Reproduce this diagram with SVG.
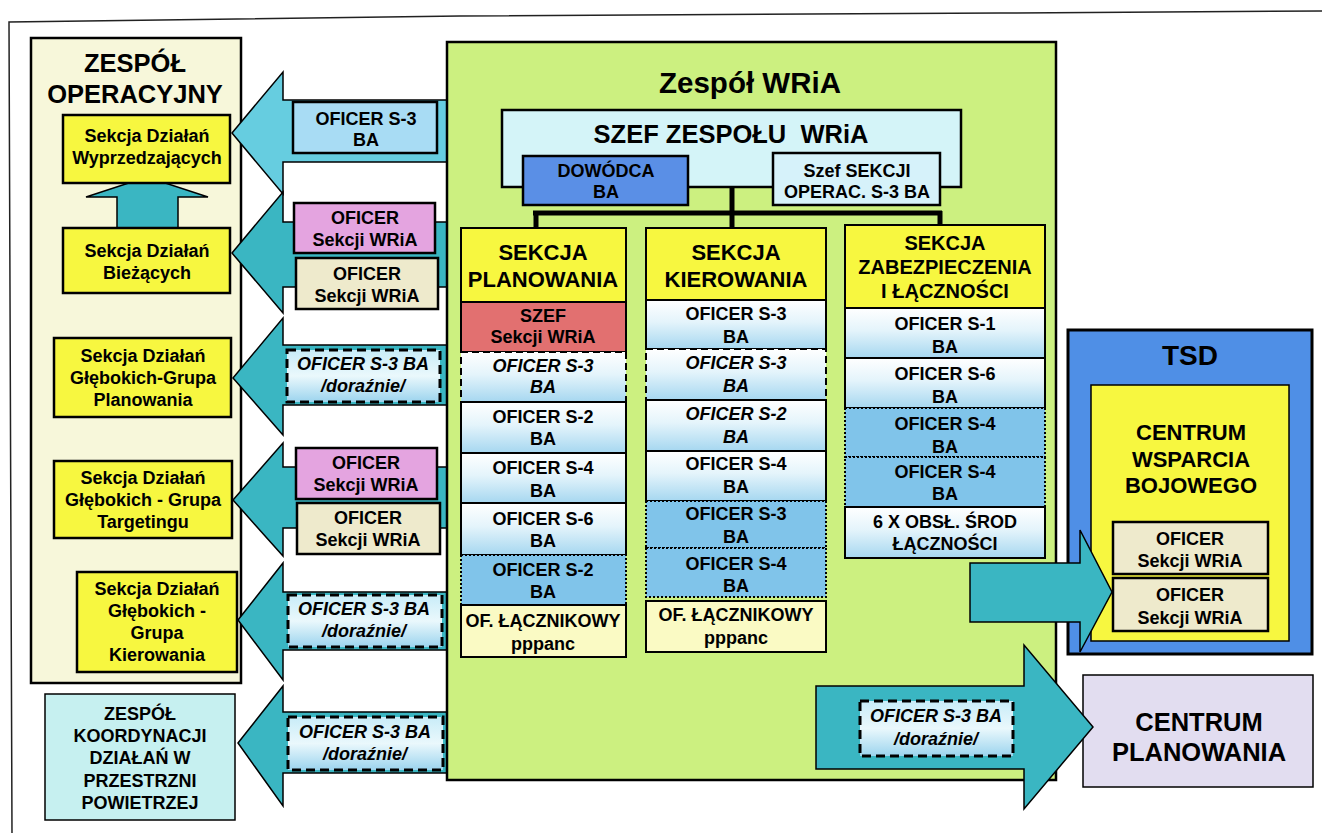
<svg xmlns="http://www.w3.org/2000/svg" width="1322" height="833" viewBox="0 0 1322 833">
<defs>
<linearGradient id="lg" x1="0" y1="0" x2="0" y2="1">
<stop offset="0" stop-color="#ffffff"/><stop offset="0.45" stop-color="#e4f4fb"/><stop offset="1" stop-color="#a6d7f0"/>
</linearGradient>
<linearGradient id="dg" x1="0" y1="0" x2="0" y2="1">
<stop offset="0" stop-color="#c8ecf8"/><stop offset="0.5" stop-color="#eaf8fc"/><stop offset="1" stop-color="#9cd4ee"/>
</linearGradient>
</defs>
<style>
.t{font-family:"Liberation Sans",Arial,sans-serif;font-weight:700;text-anchor:middle;fill:#000}
.f18{font-size:18px}
.it{font-style:italic}
.bx{stroke:#000;stroke-width:2.5}
.row{stroke:#000;stroke-width:2}
.arrow{fill:#3ab6c2;stroke:#000;stroke-width:1.5}
.arrow1{fill:#66cde0;stroke:#000;stroke-width:1.5}
.dash{stroke:#000;stroke-width:3;stroke-dasharray:9 5;fill:url(#dg)}
.rdash{stroke:#000;stroke-width:2;stroke-dasharray:7 4}
.dot{stroke:#000;stroke-width:2;stroke-dasharray:2 2}
.yel{fill:#f7f740}
.lb{fill:url(#lg)}
.dk{fill:#80c4ea}
.pink{fill:#e4a4e0}
.beige{fill:#eeeacc}
.pale{fill:#fafac4}
.line{stroke:#000;stroke-width:5;fill:none}
.hd{font-size:22px}
</style>
<rect width="1322" height="833" fill="#ffffff"/>
<polyline points="12,833 9,22 460,16 1000,13 1322,11" fill="none" stroke="#222" stroke-width="1.5"/>

<g id="zespol-operacyjny">
<rect x="31" y="38" width="210" height="645" fill="#f7f7da" class="bx"/>
<text class="t" x="135" y="72" font-size="25.5">ZESPÓŁ</text>
<text class="t" x="135" y="103" font-size="25.5">OPERACYJNY</text>
</g>

<g id="up-arrow">
<polygon points="117,228 117,197 86,197 147,177 208,197 178,197 178,228" class="arrow"/>
</g>

<g id="sekcja-wyprzedzajacych">
<rect x="63" y="115" width="167" height="68" class="yel bx"/>
<text class="t f18" x="147" y="142">Sekcja Działań</text>
<text class="t f18" x="147" y="164">Wyprzedzających</text>
</g>
<g id="sekcja-biezacych">
<rect x="63" y="228" width="167" height="65" class="yel bx"/>
<text class="t f18" x="147" y="257">Sekcja Działań</text>
<text class="t f18" x="147" y="279">Bieżących</text>
</g>
<g id="sekcja-planowania-grupa">
<rect x="54" y="338" width="177" height="79" class="yel bx"/>
<text class="t f18" x="143" y="362">Sekcja Działań</text>
<text class="t f18" x="143" y="384">Głębokich-Grupa</text>
<text class="t f18" x="143" y="406">Planowania</text>
</g>
<g id="sekcja-targetingu">
<rect x="54" y="461" width="178" height="77" class="yel bx"/>
<text class="t f18" x="143" y="484">Sekcja Działań</text>
<text class="t f18" x="143" y="506">Głębokich - Grupa</text>
<text class="t f18" x="143" y="528">Targetingu</text>
</g>
<g id="sekcja-kierowania-grupa">
<rect x="77" y="572" width="160" height="100" class="yel bx"/>
<text class="t f18" x="157" y="595">Sekcja Działań</text>
<text class="t f18" x="157" y="617">Głębokich -</text>
<text class="t f18" x="157" y="639">Grupa</text>
<text class="t f18" x="157" y="661">Kierowania</text>
</g>
<g id="zespol-koordynacji">
<rect x="45" y="694" width="190" height="126" fill="#c6f0f0" stroke="#000" stroke-width="1.5"/>
<text class="t f18" x="140" y="720">ZESPÓŁ</text>
<text class="t f18" x="140" y="742">KOORDYNACJI</text>
<text class="t f18" x="140" y="764">DZIAŁAŃ W</text>
<text class="t f18" x="140" y="787">PRZESTRZNI</text>
<text class="t f18" x="140" y="809">POWIETRZEJ</text>
</g>

<g id="arrows-left">
<polygon class="arrow1" points="232,133 283,72 283,100 450,100 450,162 283,162 283,194"/>
<polygon class="arrow" points="232,253 283,192 283,222 450,222 450,287 283,287 283,313"/>
<polygon class="arrow" points="233,378 283,318 283,345 450,345 450,405 283,405 283,435"/>
<polygon class="arrow" points="233,500 283,443 283,467 450,467 450,528 283,528 283,556"/>
<polygon class="arrow" points="238,620 283,563 283,592 450,592 450,650 283,650 283,680"/>
<polygon class="arrow" points="238,743 283,686 283,712 450,712 450,773 283,773 283,806"/>
</g>

<g id="oficer-s3-a1">
<rect x="293" y="102" width="144" height="51" fill="#a8dcf4" class="bx"/>
<text class="t f18" x="366" y="125">OFICER S-3</text>
<text class="t f18" x="366" y="146">BA</text>
</g>
<g id="oficer-pink-1">
<rect x="294" y="203" width="141" height="50" class="pink bx"/>
<text class="t f18" x="365" y="224">OFICER</text>
<text class="t f18" x="365" y="246">Sekcji WRiA</text>
</g>
<g id="oficer-beige-1">
<rect x="296" y="258" width="142" height="51" class="beige bx"/>
<text class="t f18" x="367" y="280">OFICER</text>
<text class="t f18" x="367" y="302">Sekcji WRiA</text>
</g>
<g id="oficer-doraznie-1">
<rect x="287" y="350" width="153" height="52" class="dash"/>
<text class="t f18 it" x="363" y="370">OFICER S-3 BA</text>
<text class="t f18 it" x="363" y="392">/doraźnie/</text>
</g>
<g id="oficer-pink-2">
<rect x="296" y="448" width="141" height="51" class="pink bx"/>
<text class="t f18" x="366" y="469">OFICER</text>
<text class="t f18" x="366" y="491">Sekcji WRiA</text>
</g>
<g id="oficer-beige-2">
<rect x="297" y="503" width="143" height="51" class="beige bx"/>
<text class="t f18" x="368" y="524">OFICER</text>
<text class="t f18" x="368" y="546">Sekcji WRiA</text>
</g>
<g id="oficer-doraznie-2">
<rect x="288" y="595" width="154" height="52" class="dash"/>
<text class="t f18 it" x="364" y="615">OFICER S-3 BA</text>
<text class="t f18 it" x="364" y="637">/doraźnie/</text>
</g>
<g id="oficer-doraznie-3">
<rect x="288" y="717" width="155" height="53" class="dash"/>
<text class="t f18 it" x="365" y="738">OFICER S-3 BA</text>
<text class="t f18 it" x="365" y="760">/doraźnie/</text>
</g>

<g id="zespol-wria">
<rect x="447" y="42" width="609" height="738" fill="#ccf080" class="bx"/>
<text class="t" x="750" y="93" font-size="29.5">Zespół WRiA</text>
</g>

<g id="szef-zespolu">
<rect x="502" y="110" width="459" height="77" fill="#d4f4f8" class="bx"/>
<text class="t" x="731" y="143" font-size="25.5" style="white-space:pre">SZEF ZESPOŁU  WRiA</text>
</g>

<g id="connectors">
<line class="line" x1="732" y1="187" x2="732" y2="213"/>
<line class="line" x1="533" y1="213" x2="942" y2="213"/>
<line class="line" x1="536" y1="211" x2="536" y2="228"/>
<line class="line" x1="732" y1="211" x2="732" y2="228"/>
<line class="line" x1="940" y1="211" x2="940" y2="225"/>
</g>

<g id="dowodca">
<rect x="523" y="156" width="165" height="49" fill="#5a8fe6" class="bx"/>
<text class="t f18" x="606" y="177">DOWÓDCA</text>
<text class="t f18" x="606" y="198">BA</text>
</g>
<g id="szef-sekcji-operac">
<rect x="773" y="153" width="167" height="52" fill="#d6f2fa" class="bx"/>
<text class="t f18" x="857" y="177">Szef SEKCJI</text>
<text class="t f18" x="857" y="198">OPERAC. S-3 BA</text>
</g>

<g id="sekcja-planowania">
<rect x="461" y="228" width="165" height="74" class="yel row"/>
<text class="t hd" x="543" y="260">SEKCJA</text>
<text class="t hd" x="543" y="287">PLANOWANIA</text>
<rect x="461" y="302" width="165" height="50" fill="#e27070" class="row"/>
<text class="t f18" x="543" y="322">SZEF</text>
<text class="t f18" x="543" y="343">Sekcji WRiA</text>
<rect x="461" y="352" width="165" height="50" class="lb rdash"/>
<text class="t f18 it" x="543" y="372">OFICER S-3</text>
<text class="t f18 it" x="543" y="393">BA</text>
<rect x="461" y="402" width="165" height="51" class="lb row"/>
<text class="t f18" x="543" y="423">OFICER S-2</text>
<text class="t f18" x="543" y="445">BA</text>
<rect x="461" y="453" width="165" height="50" class="lb row"/>
<text class="t f18" x="543" y="474">OFICER S-4</text>
<text class="t f18" x="543" y="497">BA</text>
<rect x="461" y="503" width="165" height="52" class="lb row"/>
<text class="t f18" x="543" y="525">OFICER S-6</text>
<text class="t f18" x="543" y="547">BA</text>
<rect x="461" y="555" width="165" height="50" class="dk dot"/>
<text class="t f18" x="543" y="576">OFICER S-2</text>
<text class="t f18" x="543" y="598">BA</text>
<rect x="461" y="605" width="165" height="52" class="pale row"/>
<text class="t f18" x="543" y="627">OF. ŁĄCZNIKOWY</text>
<text class="t f18" x="543" y="650">pppanc</text>
</g>

<g id="sekcja-kierowania">
<rect x="646" y="228" width="180" height="72" class="yel row"/>
<text class="t hd" x="736" y="260">SEKCJA</text>
<text class="t hd" x="736" y="287">KIEROWANIA</text>
<rect x="646" y="300" width="180" height="49" class="lb row"/>
<text class="t f18" x="736" y="320">OFICER S-3</text>
<text class="t f18" x="736" y="343">BA</text>
<rect x="646" y="349" width="180" height="51" class="lb rdash"/>
<text class="t f18 it" x="736" y="369">OFICER S-3</text>
<text class="t f18 it" x="736" y="392">BA</text>
<rect x="646" y="400" width="180" height="51" class="lb row"/>
<text class="t f18 it" x="736" y="420">OFICER S-2</text>
<text class="t f18 it" x="736" y="443">BA</text>
<rect x="646" y="451" width="180" height="50" class="lb row"/>
<text class="t f18" x="736" y="470">OFICER S-4</text>
<text class="t f18" x="736" y="493">BA</text>
<rect x="646" y="501" width="180" height="47" class="dk dot"/>
<text class="t f18" x="736" y="520">OFICER S-3</text>
<text class="t f18" x="736" y="543">BA</text>
<rect x="646" y="548" width="180" height="49" class="dk dot"/>
<text class="t f18" x="736" y="570">OFICER S-4</text>
<text class="t f18" x="736" y="592">BA</text>
<rect x="646" y="601" width="180" height="51" class="pale row"/>
<text class="t f18" x="736" y="621">OF. ŁĄCZNIKOWY</text>
<text class="t f18" x="736" y="644">pppanc</text>
</g>

<g id="sekcja-zabezpieczenia">
<rect x="845" y="225" width="200" height="83" class="yel row"/>
<text class="t" font-size="20" x="945" y="250">SEKCJA</text>
<text class="t" font-size="20" x="945" y="274">ZABEZPIECZENIA</text>
<text class="t" font-size="20" x="945" y="298">I ŁĄCZNOŚCI</text>
<rect x="845" y="308" width="200" height="50" class="lb row"/>
<text class="t f18" x="945" y="330">OFICER S-1</text>
<text class="t f18" x="945" y="353">BA</text>
<rect x="845" y="358" width="200" height="50" class="lb row"/>
<text class="t f18" x="945" y="380">OFICER S-6</text>
<text class="t f18" x="945" y="403">BA</text>
<rect x="845" y="408" width="200" height="49" class="dk dot"/>
<text class="t f18" x="945" y="430">OFICER S-4</text>
<text class="t f18" x="945" y="453">BA</text>
<rect x="845" y="457" width="200" height="50" class="dk dot"/>
<text class="t f18" x="945" y="478">OFICER S-4</text>
<text class="t f18" x="945" y="500">BA</text>
<rect x="845" y="507" width="200" height="51" class="lb row"/>
<text class="t f18" x="945" y="528">6 X OBSŁ. ŚROD</text>
<text class="t f18" x="945" y="550">ŁĄCZNOŚCI</text>
</g>

<g id="tsd">
<rect x="1068" y="330" width="244" height="324" fill="#4f8fe6" stroke="#000" stroke-width="3"/>
<text class="t" font-size="28" x="1190" y="365">TSD</text>
<rect x="1091" y="385" width="198" height="256" fill="#f7f740" stroke="#000" stroke-width="1.5"/>
<text class="t" font-size="22" x="1191" y="440">CENTRUM</text>
<text class="t" font-size="22" x="1191" y="467">WSPARCIA</text>
<text class="t" font-size="22" x="1191" y="493">BOJOWEGO</text>
</g>
<g id="tsd-oficer-1">
<rect x="1113" y="522" width="155" height="52" class="beige bx"/>
<text class="t f18" x="1190" y="545">OFICER</text>
<text class="t f18" x="1190" y="567">Sekcji WRiA</text>
</g>
<g id="tsd-oficer-2">
<rect x="1113" y="578" width="155" height="53" class="beige bx"/>
<text class="t f18" x="1190" y="601">OFICER</text>
<text class="t f18" x="1190" y="624">Sekcji WRiA</text>
</g>

<g id="centrum-planowania">
<rect x="1083" y="675" width="230" height="112" fill="#e2ddf0" stroke="#000" stroke-width="1.5"/>
<text class="t" font-size="25.5" x="1199" y="731">CENTRUM</text>
<text class="t" font-size="25.5" x="1199" y="761">PLANOWANIA</text>
</g>

<g id="arrows-right">
<polygon class="arrow" points="970,563 1080,563 1080,530 1112,592 1080,652 1080,622 970,622"/>
<polygon class="arrow" points="816,686 1024,686 1024,645 1093,727 1024,809 1024,769 816,769"/>
</g>
<g id="oficer-doraznie-4">
<rect x="860" y="701" width="153" height="55" class="dash"/>
<text class="t f18 it" x="936" y="722">OFICER S-3 BA</text>
<text class="t f18 it" x="936" y="745">/doraźnie/</text>
</g>
</svg>
